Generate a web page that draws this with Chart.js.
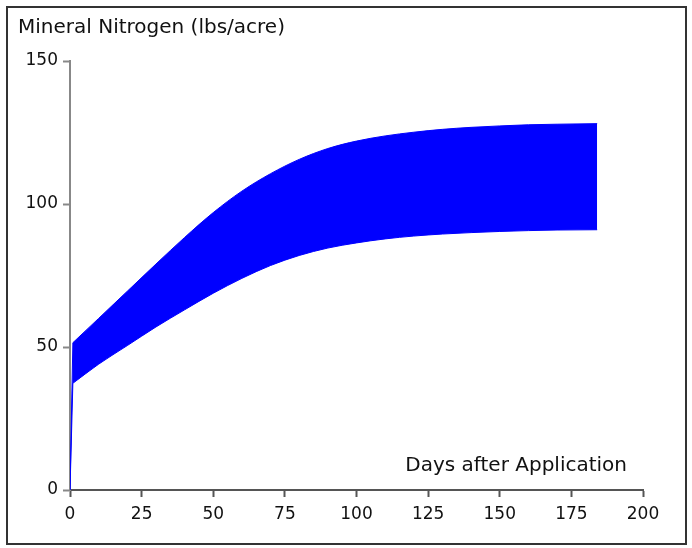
<!DOCTYPE html>
<html>
<head>
<meta charset="utf-8">
<script src="https://cdn.jsdelivr.net/npm/chart.js@4.4.0/dist/chart.umd.min.js"></script>
<style>
  html, body { margin: 0; padding: 0; background: #ffffff; }
  #wrap { position: relative; width: 692px; height: 548px; }
</style>
</head>
<body>
<div id="wrap"><canvas id="c" width="692" height="548"></canvas></div>
<script>
// ---- data ----
// initial jump at application (day 0 -> day 1)
const spikeDays   = [0, 1];
const spikeUpper  = [0, 51.5];
const spikeLower  = [0, 37.3];
// band of mineral N after application
const days        = [1,    10, 20,   30, 40,   50, 60,    70,    80,    90,    100,  110,   120,   130,   140,   150,   160,   170,   184];
const upperN      = [51.5, 60, 69.5, 79, 88.3, 97, 104.5, 110.6, 115.6, 119.4, 122,  123.8, 125.1, 126.1, 126.8, 127.3, 127.7, 127.9, 128.1];
const lowerN      = [37.3, 44, 50.5, 57, 63,   68.8, 74,  78.5,  82,    84.6,  86.4, 87.8,  88.8,  89.5,  90,    90.4,  90.7,  90.9,  91];
const xTicks      = [0, 25, 50, 75, 100, 125, 150, 175, 200];
const yTicks      = [0, 50, 100, 150];
const titleText   = 'Mineral Nitrogen (lbs/acre)';
const xLabelText  = 'Days after Application';

const FONT = 'DejaVu Sans';
const BLUE = '#0000ff';

const toXY = (xs, ys) => xs.map((d, i) => ({ x: d, y: ys[i] }));

const decor = {
  id: 'decor',
  beforeDraw(chart) {
    const ctx = chart.ctx;
    ctx.save();
    ctx.fillStyle = '#ffffff';
    ctx.fillRect(0, 0, chart.width, chart.height);
    ctx.restore();
  },
  afterDraw(chart) {
    const ctx = chart.ctx;
    const a = chart.chartArea;
    ctx.save();
    ctx.strokeStyle = '#333333';
    ctx.lineWidth = 2;
    ctx.strokeRect(7, 7, 679, 537);
    ctx.fillStyle = '#111111';
    ctx.font = '20px "' + FONT + '"';
    ctx.textBaseline = 'middle';
    ctx.textAlign = 'left';
    ctx.fillText(titleText, 18, 28);
    ctx.textAlign = 'right';
    ctx.fillText(xLabelText, a.right - 16, a.bottom - 24);
    ctx.restore();
  }
};

const lineDs = (label, xs, ys, fill, mode) => ({
  label,
  data: toXY(xs, ys),
  borderColor: BLUE,
  borderWidth: 1,
  backgroundColor: BLUE,
  fill,
  pointRadius: 0,
  cubicInterpolationMode: mode
});

new Chart(document.getElementById('c'), {
  type: 'line',
  data: {
    datasets: [
      lineDs('upper', days, upperN, '+1', 'monotone'),
      lineDs('lower', days, lowerN, false, 'monotone'),
      Object.assign(lineDs('spikeUpper', spikeDays, spikeUpper, '+1', 'default'), { tension: 0 }),
      Object.assign(lineDs('spikeLower', spikeDays, spikeLower, false, 'default'), { tension: 0 })
    ]
  },
  options: {
    responsive: false,
    animation: false,
    devicePixelRatio: 1,
    layout: { padding: { top: 61, right: 49, left: 0, bottom: 0 } },
    plugins: {
      legend: { display: false },
      title: { display: false },
      tooltip: { enabled: false }
    },
    scales: {
      x: {
        type: 'linear',
        min: 0,
        max: 200,
        afterFit(s) { s.height = 58; },
        afterBuildTicks(s) { s.ticks = xTicks.map(v => ({ value: v })); },
        ticks: { color: '#111111', font: { family: FONT, size: 17 }, padding: 7, maxRotation: 0, autoSkip: false },
        grid: { drawOnChartArea: false, drawTicks: true, tickLength: 7, tickColor: '#555555', tickWidth: 2 },
        border: { display: true, color: '#555555', width: 2 }
      },
      y: {
        type: 'linear',
        min: 0,
        max: 150,
        afterFit(s) { s.width = 70; },
        afterBuildTicks(s) { s.ticks = yTicks.map(v => ({ value: v })); },
        ticks: { color: '#111111', font: { family: FONT, size: 17 }, padding: 5, autoSkip: false },
        grid: { drawOnChartArea: false, drawTicks: true, tickLength: 7, tickColor: '#888888', tickWidth: 2 },
        border: { display: true, color: '#888888', width: 2 }
      }
    }
  },
  plugins: [decor]
});
</script>
</body>
</html>
